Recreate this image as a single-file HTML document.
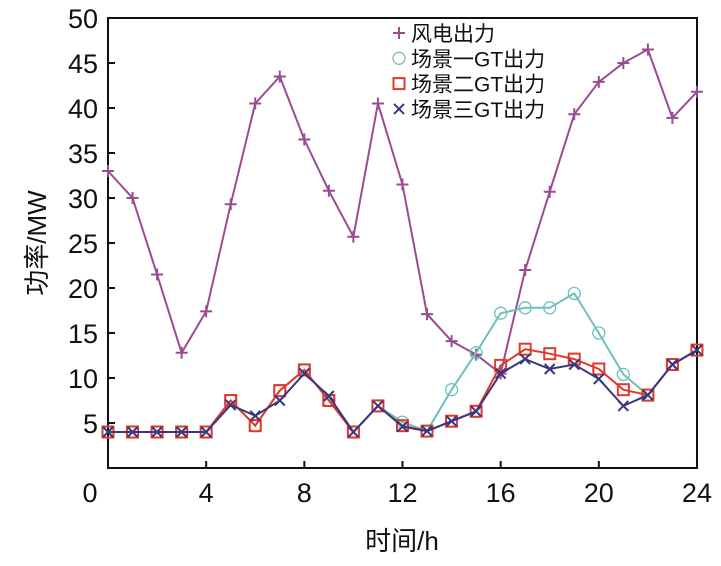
<!DOCTYPE html>
<html><head><meta charset="utf-8"><style>
body{margin:0;background:#fff;}
svg{display:block;font-family:"Liberation Sans","Noto Sans CJK SC",sans-serif;}
</style></head><body>
<svg id="c" width="721" height="566"></svg>
<script>
const hours=[0,1,2,3,4,5,6,7,8,9,10,11,12,13,14,15,16,17,18,19,20,21,22,23,24];
const wind=[33,30,21.5,12.8,17.4,29.3,40.5,43.5,36.5,30.8,25.7,40.5,31.5,17.1,14.1,12.6,10.5,22,30.7,39.3,42.9,45,46.5,38.9,41.8];
const s1=[4,4,4,4,4,7.5,4.7,8.6,10.9,7.5,4,6.9,5.1,4.1,8.7,12.8,17.2,17.8,17.8,19.4,15,10.4,8.1,11.5,13.1];
const s2=[4,4,4,4,4,7.5,4.7,8.6,10.9,7.5,4,6.9,4.7,4.1,5.2,6.3,11.4,13.2,12.7,12.1,11,8.7,8.1,11.5,13.1];
const s3=[4,4,4,4,4,7,5.8,7.5,10.5,8,4,6.9,4.6,4.1,5.2,6.3,10.5,12.1,11,11.5,9.9,6.9,8.1,11.5,13.1];
const xTicks=[0,4,8,12,16,20,24];
const yTicks=[5,10,15,20,25,30,35,40,45,50];
const NS="http://www.w3.org/2000/svg";
const svg=document.getElementById('c');
const X=v=>108+v*24.54, Y=v=>468-v*9;
function el(t,a,p){const e=document.createElementNS(NS,t);for(const k in a)e.setAttribute(k,a[k]);(p||svg).appendChild(e);return e;}
const frame=el('rect',{x:108,y:18,width:589,height:450,fill:'none',stroke:'#111','stroke-width':2});


xTicks.forEach(t=>{
  const l=el('line',{x1:X(t),x2:X(t),y1:468,y2:461,stroke:'#111','stroke-width':2});
  
  
  const tx=el('text',{x:t===0?90:X(t),y:502,'font-size':27,'text-anchor':'middle',fill:'#111'});
  tx.textContent=t;
  
  
});
yTicks.forEach(t=>{
  const l=el('line',{x1:108,x2:115,y1:Y(t),y2:Y(t),stroke:'#111','stroke-width':2});
  
  
  const tx=el('text',{x:98,y:Y(t)+10,'font-size':27,'text-anchor':'end',fill:'#111'});
  tx.textContent=t;
  
  
});
function marker(type,x,y,c,g){
  if(type==='plus'){el('path',{d:`M${x-6} ${y}H${x+6}M${x} ${y-6}V${y+6}`,stroke:c,'stroke-width':2,fill:'none'},g);}
  else if(type==='circle'){el('circle',{cx:x,cy:y,r:6,stroke:c,'stroke-width':1.3,fill:'none'},g);}
  else if(type==='square'){el('rect',{x:x-5.5,y:y-5.5,width:11,height:11,stroke:c,'stroke-width':2,fill:'none'},g);}
  else {el('path',{d:`M${x-5} ${y-5}L${x+5} ${y+5}M${x+5} ${y-5}L${x-5} ${y+5}`,stroke:c,'stroke-width':2,fill:'none'},g);}
}
const series=[
  {name:'wind-series',d:wind,c:'#9a4c92',m:'plus',label:'风电出力'},
  {name:'scenario1-series',d:s1,c:'#6cc0bd',m:'circle',label:'场景一GT出力'},
  {name:'scenario2-series',d:s2,c:'#e0392b',m:'square',label:'场景二GT出力'},
  {name:'scenario3-series',d:s3,c:'#39387f',m:'x',label:'场景三GT出力'}
];
series.forEach((s,i)=>{
  const g=el('g',{});
  
  
  el('polyline',{points:s.d.map((v,j)=>X(hours[j])+','+Y(v)).join(' '),fill:'none',stroke:s.c,'stroke-width':2},g);
  s.d.forEach((v,j)=>marker(s.m,X(hours[j]),Y(v),s.c,g));
  const lg=el('g',{});
  
  
  const ly=33+i*25.3;
  marker(s.m,399,ly,s.c,lg);
  const t=el('text',{x:411,y:ly+8,'font-size':21,fill:'#111'},lg);
  t.textContent=s.label;
});
const xt=el('text',{x:402,y:550,'font-size':26,'text-anchor':'middle',fill:'#111'});
xt.textContent='时间/h';


const yt=el('text',{x:0,y:0,'font-size':26,'text-anchor':'middle',fill:'#111',transform:'translate(46,243) rotate(-90)'});
yt.textContent='功率/MW';


</script>
</body></html>
